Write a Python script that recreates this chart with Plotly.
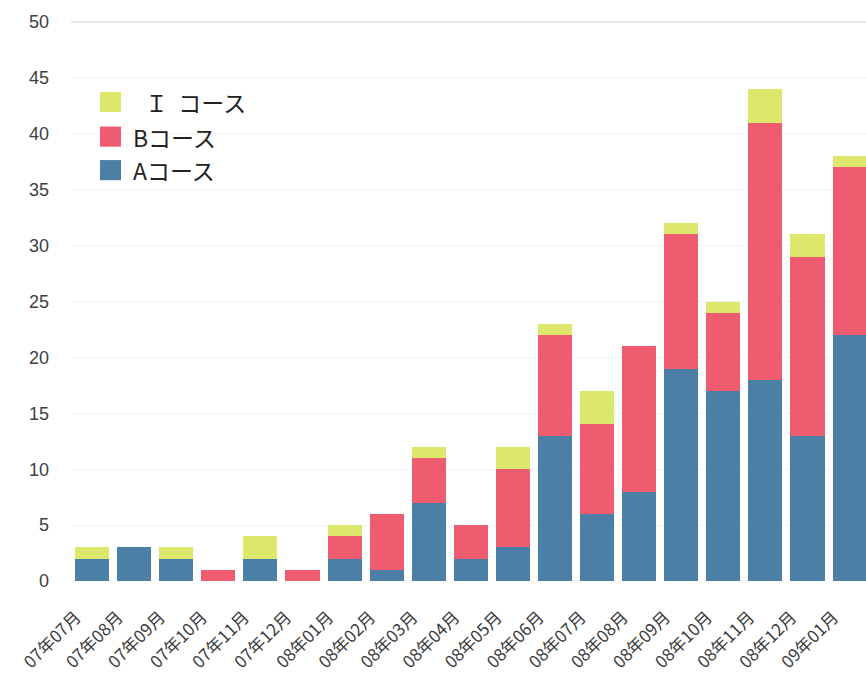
import plotly.graph_objects as go

months = ["07年07月", "07年08月", "07年09月", "07年10月", "07年11月", "07年12月",
          "08年01月", "08年02月", "08年03月", "08年04月", "08年05月", "08年06月",
          "08年07月", "08年08月", "08年09月", "08年10月", "08年11月", "08年12月",
          "09年01月"]
course_a = [2, 3, 2, 0, 2, 0, 2, 1, 7, 2, 3, 13, 6, 8, 19, 17, 18, 13, 22]
course_b = [0, 0, 0, 1, 0, 1, 2, 5, 4, 3, 7, 9, 8, 13, 12, 7, 23, 16, 15]
course_i = [1, 0, 1, 0, 2, 0, 1, 0, 1, 0, 2, 1, 3, 0, 1, 1, 3, 2, 1]
y_ticks = [0, 5, 10, 15, 20, 25, 30, 35, 40, 45, 50]

series_names = ["Aコース", "Bコース", "Ｉ\u00a0\u00a0コース"]
series_colors = ["#4b7fa6", "#ef5b6f", "#dce76b"]
series_values = [course_a, course_b, course_i]

FONT = "Noto Sans CJK JP"

fig = go.Figure()
for name, color, vals in zip(series_names, series_colors, series_values):
    fig.add_trace(go.Bar(x=months, y=vals, name=name, showlegend=False,
                         marker=dict(color=color, line=dict(width=0))))

# manual legend (large square swatches like the original)
legend_rows = [  # (name index, swatch bottom, swatch top, text x)
    (2, 0.839, 0.875, 0.090),
    (1, 0.777, 0.813, 0.076),
    (0, 0.717, 0.753, 0.076),
]
shapes = [dict(type="line", xref="paper", yref="paper", x0=0, x1=1, y0=1, y1=1,
               line=dict(color="#e6e6e6", width=2))]
annotations = []
for idx, y0, y1, tx in legend_rows:
    shapes.append(dict(type="rect", xref="paper", yref="paper",
                       x0=0.0365, x1=0.0629, y0=y0, y1=y1,
                       fillcolor=series_colors[idx], line=dict(width=0)))
    annotations.append(dict(xref="paper", yref="paper", x=tx, y=(y0 + y1) / 2,
                            xanchor="left", yanchor="middle", showarrow=False,
                            text=series_names[idx],
                            font=dict(family=FONT, size=23, color="#222222")))

fig.update_layout(
    barmode="stack",
    bargap=0.19,
    width=866, height=684,
    margin=dict(l=71, r=0, t=22, b=103),
    paper_bgcolor="white",
    plot_bgcolor="white",
    font=dict(family=FONT, color="#3a3a3a"),
    showlegend=False,
    xaxis=dict(
        type="category",
        range=[-0.5, 18.39],
        tickangle=-45,
        tickfont=dict(family=FONT, size=17, color="#3a3a3a"),
        showgrid=False, zeroline=False, showline=False,
        ticks="", ticklabelstandoff=22, ticklabelshift=-16,
        automargin=False,
    ),
    yaxis=dict(
        range=[0, 50],
        tickvals=y_ticks,
        tickfont=dict(family="Liberation Sans", size=18, color="#404040"),
        showgrid=True, gridcolor="#f3f3f3", gridwidth=1,
        zeroline=False, showline=False,
        ticks="", ticklabelstandoff=21,
        automargin=False,
    ),
    shapes=shapes,
    annotations=annotations,
)

fig.write_html("out.html")
